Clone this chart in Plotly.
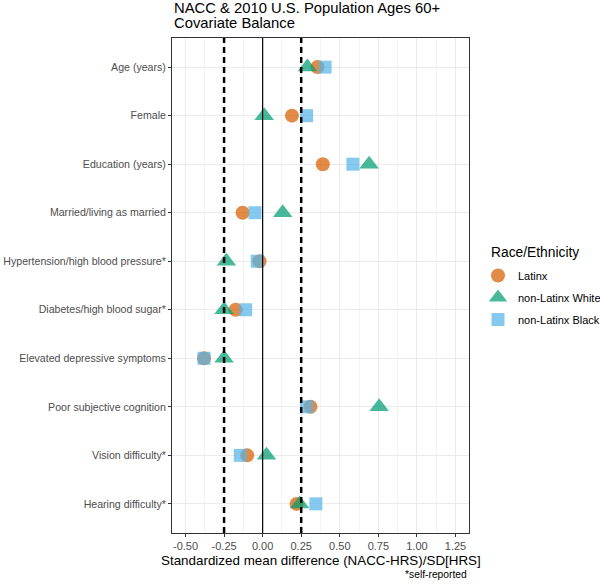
import plotly.graph_objects as go

categories = ["Age (years)", "Female", "Education (years)", "Married/living as married",
              "Hypertension/high blood pressure*", "Diabetes/high blood sugar*",
              "Elevated depressive symptoms", "Poor subjective cognition",
              "Vision difficulty*", "Hearing difficulty*"]
latinx = [0.355, 0.19, 0.39, -0.13, -0.02, -0.175, -0.38, 0.31, -0.10, 0.22]
white = [0.29, 0.01, 0.69, 0.13, -0.235, -0.25, -0.25, 0.755, 0.025, 0.24]
black = [0.405, 0.285, 0.585, -0.05, -0.035, -0.11, -0.38, 0.285, -0.145, 0.345]
x_ticks = [-0.5, -0.25, 0.0, 0.25, 0.5, 0.75, 1.0, 1.25]
x_tick_labels = ["-0.50", "-0.25", "0.00", "0.25", "0.50", "0.75", "1.00", "1.25"]

FONT = "Liberation Sans, Arial, sans-serif"
L, T, W, H = 172, 38, 297, 495


def px(xp):
    return (xp - L) / W


def py(yp):
    return 1 - (yp - T) / H


fig = go.Figure()
series = [("Latinx", latinx, "circle", 14, "#D55E00"),
          ("non-Latinx White", white, "triangle-up", 17, "#009E73"),
          ("non-Latinx Black", black, "square", 13, "#56B4E9")]
for name, vals, sym, size, col in series:
    fig.add_trace(go.Scatter(x=vals, y=categories, mode="markers", name=name, legendgroup=name,
                             marker=dict(symbol=sym, size=size, color=col, opacity=0.72,
                                         line=dict(width=0))))

for xv, dash, w in [(-0.25, "6px,4px", 2.5), (0.25, "6px,4px", 2.5), (0.0, "solid", 1.2)]:
    fig.add_shape(type="line", xref="x", yref="paper", x0=xv, x1=xv, y0=0, y1=1,
                  line=dict(color="black", width=w, dash=dash), layer="above")

fig.update_layout(
    width=600, height=586,
    margin=dict(l=L, r=600 - L - W, t=T, b=586 - T - H, autoexpand=False),
    paper_bgcolor="white", plot_bgcolor="white",
    font=dict(family=FONT, color="#4D4D4D", size=11),
    legend=dict(x=px(478), xanchor="left", y=py(261), yanchor="top", tracegroupgap=3,
                font=dict(size=11, color="black"), itemsizing="trace",
                bgcolor="rgba(0,0,0,0)"),
    xaxis=dict(range=[-0.5875, 1.3375], tickvals=x_ticks, ticktext=x_tick_labels,
               showgrid=True, gridcolor="#EBEBEB", gridwidth=1, automargin=False,
               minor=dict(dtick=0.125, tick0=-0.625, showgrid=True, gridcolor="#F3F3F3", gridwidth=0.6),
               ticks="outside", ticklen=3, tickcolor="#333333",
               showline=True, mirror=True, linecolor="#333333", linewidth=1,
               zeroline=False, tickfont=dict(size=11, color="#4D4D4D")),
    yaxis=dict(type="category", categoryarray=categories, range=[9.6, -0.6],
               showgrid=True, gridcolor="#EBEBEB", gridwidth=1, automargin=False,
               ticks="outside", ticklen=3, tickcolor="#333333",
               showline=True, mirror=True, linecolor="#333333", linewidth=1,
               zeroline=False, tickfont=dict(size=10.6, color="#4D4D4D")),
    annotations=[
        dict(text="NACC & 2010 U.S. Population Ages 60+", xref="paper", yref="paper",
             x=0, y=py(8.5), xanchor="left", yanchor="middle", showarrow=False,
             font=dict(size=14.8, color="black")),
        dict(text="Covariate Balance", xref="paper", yref="paper",
             x=0, y=py(23), xanchor="left", yanchor="middle", showarrow=False,
             font=dict(size=14.8, color="black")),
        dict(text="Race/Ethnicity", xref="paper", yref="paper",
             x=px(489), y=py(252.7), xanchor="left", yanchor="middle", showarrow=False,
             font=dict(size=13.8, color="black")),
        dict(text="Standardized mean difference (NACC-HRS)/SD[HRS]", xref="paper", yref="paper",
             x=0.5, y=py(560), xanchor="center", yanchor="middle",
             showarrow=False, font=dict(size=13.4, color="black")),
        dict(text="*self-reported", xref="paper", yref="paper", x=1, y=py(574),
             xanchor="right", yanchor="middle", showarrow=False, font=dict(size=10.3, color="black")),
    ],
)
fig.write_html("out.html", config={"displayModeBar": False},
               post_script="document.body.style.margin='0';")
